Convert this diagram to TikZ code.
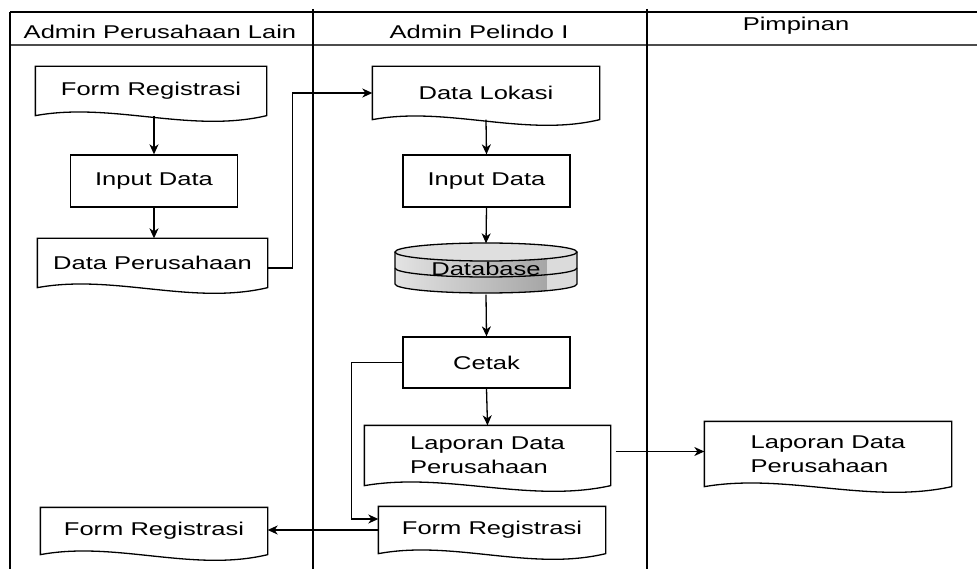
\documentclass[tikz,border=0pt]{standalone}
\usepackage{fontspec}
\setmainfont{Liberation Sans}[FakeStretch=1.38]
\usetikzlibrary{arrows.meta,calc}

% document symbol with a wavy bottom, drawn round a named node
\newcommand{\docshape}[1]{%
  \draw (#1.north west) -- (#1.south west)
    .. controls ($(#1.south west)!0.33!(#1.south east)+(0,-14)$)
    and ($(#1.south west)!0.67!(#1.south east)+(0,18)$) .. (#1.south east)
    -- (#1.north east) -- cycle;}

\begin{document}
\begin{tikzpicture}[x=1pt,y=-1pt,line width=1.3pt,
    every node/.style={font=\fontsize{18.5}{24}\selectfont,inner sep=0pt},
    docbox/.style={minimum width=#1},
    procbox/.style={draw,minimum width=167pt,minimum height=52pt},
    arr/.style={-{Stealth[length=10pt,width=9pt,inset=3pt]}}]
      \useasboundingbox (0,0) rectangle (977,569);
      % swimlanes
      \draw (10,12) -- (977,12);
      \draw [line width=1.8pt,gray!60!black] (10,45) -- (977,45);
      \draw (10,12) -- (10,569);
      \draw (313,9) -- (313,569);
      \draw (647,9) -- (647,569);
      \node (lane1) at (160,32) {Admin Perusahaan Lain};
      \node (lane2) at (479,32) {Admin Pelindo I};
      \node (lane3) at (796,26) {Pimpinan};

      % Admin Perusahaan Lain
      \node [docbox=230pt,minimum height=48pt] (formreg1) at (151,91) {Form Registrasi};
      \docshape{formreg1}
      \node [procbox] (input1) at (154,181) {Input Data};
      \node [docbox=229pt,minimum height=48pt] (dataper) at (152.5,263) {Data Perusahaan};
      \docshape{dataper}
      \node [docbox=226pt,minimum height=46pt] (formreg3) at (154,531) {Form Registrasi};
      \docshape{formreg3}

      % Admin Pelindo I
      \node [docbox=226pt,minimum height=52pt] (datalok) at (486,93) {Data Lokasi};
      \docshape{datalok}
      \node [procbox] (input2) at (486.5,181) {Input Data};
      % database cylinder
      \begin{scope}
        \clip (395,252) -- (395,284) arc [start angle=180,end angle=0,x radius=91,y radius=9] -- (577,252) -- cycle;
        \shade [left color=gray!22,right color=gray!70] (395,240) rectangle (547,295);
        \fill [gray!28] (547,240) rectangle (577,295);
      \end{scope}
      \draw (395,252) -- (395,284) arc [start angle=180,end angle=0,x radius=91,y radius=9] -- (577,252);
      \draw (395,268) arc [start angle=180,end angle=0,x radius=91,y radius=9];
      \draw [fill=gray!25] (486,252) ellipse [x radius=91,y radius=9];
      \node [minimum width=182pt,minimum height=50pt] (db) at (486,269) {Database};
      \node [procbox,minimum height=51pt] (cetak) at (486.5,362.5) {Cetak};
      \node [docbox=245pt,minimum height=59pt,align=left] (lapor1) at (487.5,455.5) {Laporan Data\\Perusahaan};
      \docshape{lapor1}
      \node [docbox=226pt,minimum height=46pt] (formreg2) at (492,530) {Form Registrasi};
      \docshape{formreg2}

      % Pimpinan
      \node [docbox=246pt,minimum height=64pt,align=left] (lapor2) at (828,454) {Laporan Data\\Perusahaan};
      \docshape{lapor2}

      % flow
      \draw [arr] (formreg1.south -| input1.north) -- (input1.north);
      \draw [arr] (input1.south) -- (dataper.north -| input1.south);
      \draw [arr] ([yshift=-5pt]dataper.east) -- ++(25,0) |- (datalok.west);
      \draw [arr] (datalok.south) -- (input2.north);
      \draw [arr] (input2.south) -- (db.north);
      \draw [arr] (db.south) -- (cetak.north);
      \draw [arr] (cetak.south) -- (lapor1.north);
      \draw [arr] (cetak.west) -- ++(-51,0) |- ([yshift=11pt]formreg2.west);
      \draw [arr] ([xshift=5pt,yshift=4pt]lapor1.east) -- ([yshift=4pt]lapor1.east -| lapor2.west);
      \draw [arr] (formreg2.west) -- (formreg2.west -| formreg3.east);
    \end{tikzpicture}
\end{document}
